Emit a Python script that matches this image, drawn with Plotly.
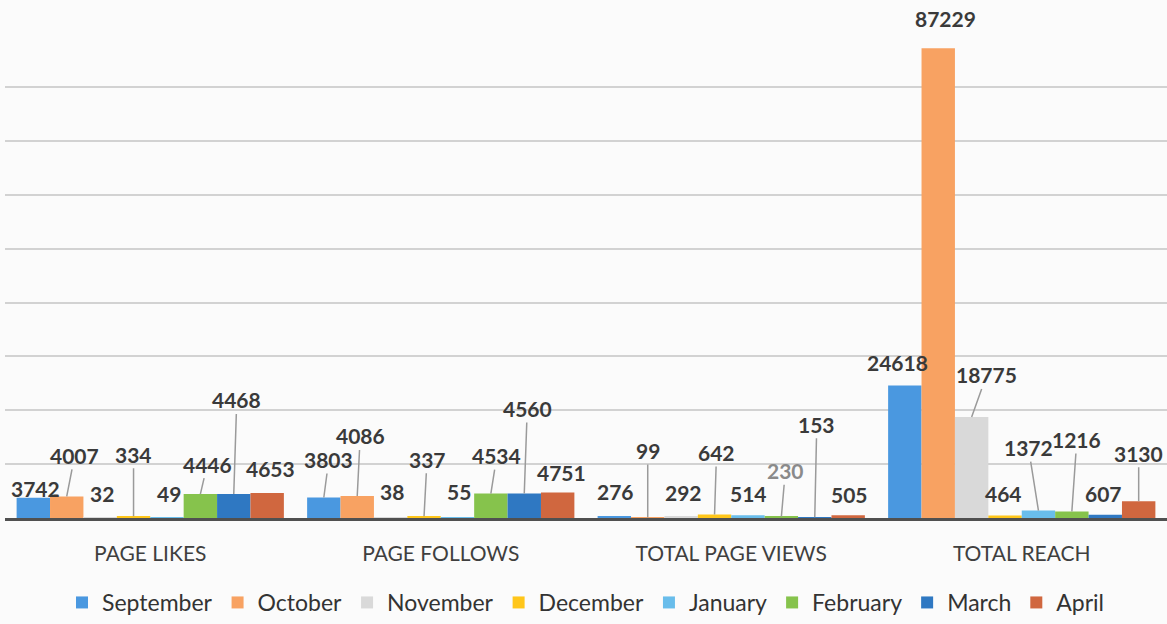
import plotly.graph_objects as go

# Monthly social media metrics, grouped by metric
categories = ["PAGE LIKES", "PAGE FOLLOWS", "TOTAL PAGE VIEWS", "TOTAL REACH"]
months = ["September", "October", "November", "December",
          "January", "February", "March", "April"]

september = [3742, 3803, 276, 24618]
october = [4007, 4086, 99, 87229]
november = [32, 38, 292, 18775]
december = [334, 337, 642, 464]
january = [49, 55, 514, 1372]
february = [4446, 4534, 230, 1216]
march = [4468, 4560, 153, 607]
april = [4653, 4751, 505, 3130]

series = [september, october, november, december,
          january, february, march, april]

colors = ["#4A98E0", "#F8A262", "#D9D9D9", "#FFC61A",
          "#69BDEB", "#86C34C", "#2F78C2", "#D0673F"]

# Data-label placement: (x offset px, y offset px from bar top, leader line)
label_offsets = [
    [(2, -9, False), (8, -41, True), (2, -24, False), (0, -62, True),
     (2, -24, False), (7, -30, True), (3, -94, True), (3, -24, False)],
    [(5, -38, True), (3, -60, True), (1, -26, False), (3, -57, True),
     (2, -26, False), (6, -38, True), (3, -85, True), (4, -20, False)],
    [(1, -25, False), (0, -67, True), (2, -24, False), (2, -62, True),
     (1, -22, False), (4, -46, True), (2, -93, True), (1, -21, False)],
    [(-7, -23, False), (7, -30, False), (15, -42, True), (-2, -22, False),
     (-10, -63, True), (5, -72, True), (-2, -21, False), (0, -48, True)],
]
muted_labels = {(2, 5)}

bargap = 0.08
n = len(months)
slot = (1 - bargap) / n

fig = go.Figure()
for name, vals, col in zip(months, series, colors):
    fig.add_trace(go.Bar(name=name, x=categories, y=vals,
                         marker=dict(color=col, line=dict(width=0))))

label_font = dict(family="Lato", size=21, color="#3a3a3a")
annotations = []
for ci in range(len(categories)):
    for mi, vals in enumerate(series):
        v = vals[ci]
        dx, dy, leader = label_offsets[ci][mi]
        xpos = ci + (mi - (n - 1) / 2) * slot
        font = dict(label_font)
        if (ci, mi) in muted_labels:
            font["color"] = "#8a8a8a"
        text = "<b>%d</b>" % v
        if leader:
            annotations.append(dict(
                x=xpos, y=v, xref="x", yref="y", text=text, font=font,
                showarrow=True, arrowhead=0, arrowwidth=1.5,
                arrowcolor="#9a9a9a", standoff=0, ax=dx, ay=dy))
        else:
            annotations.append(dict(
                x=xpos, y=v, xref="x", yref="y", text=text, font=font,
                showarrow=False, xshift=dx, yshift=-dy))

fig.update_layout(
    width=1167, height=624,
    margin=dict(l=5, r=0, t=36, b=105),
    paper_bgcolor="#fbfbfb", plot_bgcolor="#fbfbfb",
    barmode="group", bargap=bargap, bargroupgap=0,
    annotations=annotations,
    showlegend=True,
    legend=dict(orientation="h", x=0.5, xanchor="center",
                y=-0.176, yanchor="middle",
                font=dict(family="Lato", size=23, color="#333333"),
                bgcolor="rgba(0,0,0,0)"),
    xaxis=dict(showline=True, linecolor="#505050", linewidth=3,
               ticks="", ticklabelstandoff=15,
               tickfont=dict(family="Lato", size=21, color="#3f3f3f")),
    yaxis=dict(range=[0, 89500], dtick=10000, showticklabels=False,
               showgrid=True, gridcolor="#d2d2d2", gridwidth=1.5,
               zeroline=False),
)

fig.write_html("out.html")
